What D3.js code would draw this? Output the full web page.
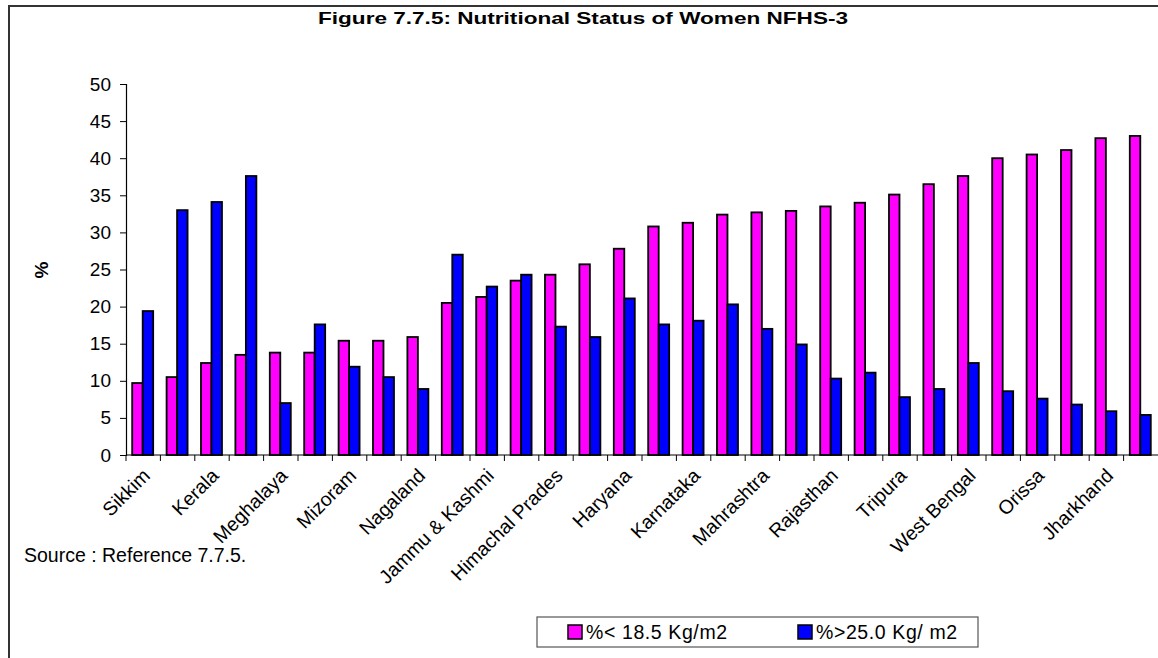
<!DOCTYPE html>
<html><head><meta charset="utf-8">
<script src="https://cdn.jsdelivr.net/npm/d3@7"></script>
<style>
html,body{margin:0;padding:0;background:#fff;}
svg{display:block;font-family:"Liberation Sans",Arial,sans-serif;}
</style></head>
<body>
<svg id="chart" width="1158" height="658"></svg>
<script>
// ---- data ----
const categories = ["Sikkim","Delhi","Kerala","Punjab","Meghalaya","Manipur","Mizoram","Arunachal Pradesh","Nagaland","Goa","Jammu & Kashmir","Tamil Nadu","Himachal Pradesh","Uttarakhand","Haryana","Andhra Pradesh","Karnataka","Gujarat","Mahrashtra","Uttar Pradesh","Rajasthan","Assam","Tripura","Chhattisgarh","West Bengal","Madhya Pradesh","Orissa","Bihar","Jharkhand","India"];
const tickLabels = ["Sikkim","","Kerala","","Meghalaya","","Mizoram","","Nagaland","","Jammu & Kashmi","","Himachal Prades","","Haryana","","Karnataka","","Mahrashtra","","Rajasthan","","Tripura","","West Bengal","","Orissa","","Jharkhand",""];
const seriesNames = ["%< 18.5 Kg/m2","%>25.0 Kg/ m2"];
const under185 = [9.7,10.5,12.4,13.5,13.8,13.8,15.4,15.4,15.9,20.5,21.3,23.5,24.3,25.7,27.8,30.8,31.3,32.4,32.7,32.9,33.5,34.0,35.1,36.5,37.6,40.0,40.5,41.1,42.7,43.0];
const over25 = [19.4,33.0,34.1,37.6,7.0,17.6,11.9,10.5,8.9,27.0,22.7,24.3,17.3,15.9,21.1,17.6,18.1,20.3,17.0,14.9,10.3,11.1,7.8,8.9,12.4,8.6,7.6,6.8,5.9,5.4];
const yTicks = [0,5,10,15,20,25,30,35,40,45,50];
const colors = ["#FF00FF","#0000FF"];

const svg = d3.select("#chart");
const FS = 19;

// frame
svg.append("rect").attr("x",9).attr("y",6).attr("width",1200).attr("height",700)
  .attr("fill","none").attr("stroke","#333").attr("stroke-width",2);

// title
svg.append("text").attr("x",318).attr("y",24)
  .attr("font-weight","bold").attr("font-size",17)
  .attr("textLength",530).attr("lengthAdjust","spacingAndGlyphs")
  .text("Figure 7.7.5: Nutritional Status of Women NFHS-3");

const x0 = d3.scaleBand().domain(categories).range([126,1158]).paddingInner(0).paddingOuter(0);
const x1 = d3.scaleBand().domain(seriesNames).range([x0.bandwidth()*0.18, x0.bandwidth()*0.79]);
const y = d3.scaleLinear().domain([0,50]).range([455,84]);

// bars
const groups = svg.append("g").selectAll("g").data(categories).join("g")
  .attr("transform",d=>`translate(${x0(d)},0)`);
groups.selectAll("rect").data((d,i)=>[{s:0,v:under185[i]},{s:1,v:over25[i]}]).join("rect")
  .attr("x",d=>x1(seriesNames[d.s])).attr("width",x1.bandwidth())
  .attr("y",d=>y(d.v)).attr("height",d=>y(0)-y(d.v))
  .attr("fill",d=>colors[d.s]).attr("stroke","#000").attr("stroke-width",1.8);

// y axis
const yAxis = svg.append("g").attr("transform","translate(126,0)")
  .call(d3.axisLeft(y).tickValues(yTicks).tickSize(6).tickPadding(9));
yAxis.select(".domain").attr("stroke","#000").attr("stroke-width",1.2);
yAxis.selectAll(".tick line").attr("stroke","#000");
yAxis.selectAll("text").attr("font-size",FS).attr("fill","#000").attr("font-family","Liberation Sans, Arial, sans-serif");

// x axis
const xAxis = svg.append("g").attr("transform","translate(0,455)");
xAxis.append("line").attr("x1",126).attr("x2",1158).attr("y1",0).attr("y2",0).attr("stroke","#000").attr("stroke-width",1.2);
xAxis.selectAll("line.tk").data(categories).join("line").attr("class","tk")
  .attr("x1",d=>x0(d)).attr("x2",d=>x0(d)).attr("y1",0).attr("y2",6).attr("stroke","#000");
xAxis.selectAll("text").data(categories).join("text")
  .attr("transform",d=>`translate(${x0(d)+x0.bandwidth()/2-2},${12}) rotate(-45)`)
  .attr("text-anchor","end").attr("dy","0.72em").attr("font-size",FS+0.5)
  .text((d,i)=>tickLabels[i]);

// y label
svg.append("text").attr("transform","translate(48,270) rotate(-90)").attr("text-anchor","middle")
  .attr("font-weight","bold").attr("font-size",FS).text("%");

// source
svg.append("text").attr("x",24).attr("y",562).attr("font-size",FS+0.5).text("Source : Reference 7.7.5.");

// legend
const lg = svg.append("g");
lg.append("rect").attr("x",537).attr("y",617).attr("width",441).attr("height",30)
  .attr("fill","#fff").attr("stroke","#555").attr("stroke-width",1.2);
const lx = [568, 798];
seriesNames.forEach((s,i)=>{
  lg.append("rect").attr("x",lx[i]).attr("y",625).attr("width",14).attr("height",14)
    .attr("fill",colors[i]).attr("stroke","#000").attr("stroke-width",1.5);
  lg.append("text").attr("x",lx[i]+18).attr("y",639).attr("font-size",FS+0.5)
    .attr("letter-spacing",0.6).text(s);
});
</script>
</body></html>
